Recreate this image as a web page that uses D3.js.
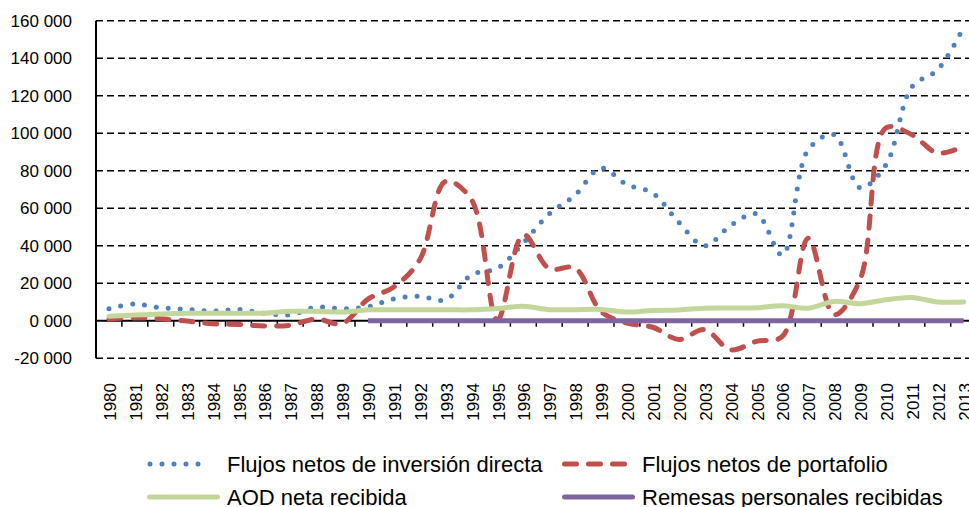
<!DOCTYPE html>
<meta charset="utf-8">
<style>
body { margin: 0; background: #fff; }
text { font-family: "Liberation Sans", Arial, sans-serif; fill: #000; }
.ylab { font-size: 17px; }
.xlab { font-size: 17px; }
.legend text { font-size: 22px; }
</style>
<svg width="969" height="507"></svg>
<script src="https://d3js.org/d3.v7.min.js"></script>
<script>

// years on the x axis
var years = d3.range(1980, 2014).map(String);

// Flujos netos de inversión directa
var inversion = [6400, 8900, 6900, 6100, 5100, 6000, 4000, 3200, 7200, 6400,
  7500, 11700, 13000, 11200, 24500, 28000, 41500, 57000, 67000, 81400,
  72500, 68000, 52500, 40000, 50700, 57000, 35000, 91200, 99200, 70900,
  83200, 124600, 133900, 156600];

// Flujos netos de portafolio
var portafolio = [900, 1500, 1000, -200, -1600, -2000, -2800, -2400, 900, -1500,
  11500, 18000, 32500, 74300, 64500, 500, 45900, 27800, 28000, 5000,
  -1300, -3500, -10000, -4800, -15500, -11000, -8400, 44000, 3200, 21900,
  102800, 99200, 89400, 93000];

// AOD neta recibida
var aod = [2400, 3000, 3600, 4000, 4000, 4000, 4000, 5000, 5000, 4600,
  5800, 5800, 5800, 5800, 5800, 6500, 7700, 5900, 5900, 6000,
  4600, 5500, 5700, 6700, 6800, 6900, 8000, 6700, 10300, 9100,
  11200, 12400, 10000, 10000];

// Remesas personales recibidas (no data before 1990)
var remesas = [null, null, null, null, null, null, null, null, null, null,
  0, 0, 0, 0, 0, 0, 0, 0, 0, 0,
  0, 0, 0, 0, 0, 0, 0, 0, 0, 0,
  0, 0, 0, 0];

var yTicks = [-20000, 0, 20000, 40000, 60000, 80000, 100000, 120000, 140000, 160000];
var yTickLabels = ["-20 000", "0 000", "20 000", "40 000", "60 000", "80 000",
  "100 000", "120 000", "140 000", "160 000"];

var seriesNames = ["Flujos netos de inversión directa", "Flujos netos de portafolio",
  "AOD neta recibida", "Remesas personales recibidas"];

var svg = d3.select("svg");

var x = d3.scaleBand()
    .domain(years)
    .range([96, 96 + 25.9 * years.length]);

var y = d3.scaleLinear()
    .domain([-20000, 160000])
    .range([358.2, 20.7]);

var plotRight = 969;

// dashed gridlines (skip zero, the axis line goes there)
svg.append("g")
  .selectAll("line")
  .data(yTicks.filter(d => d !== 0))
  .enter().append("line")
    .attr("x1", 96)
    .attr("x2", plotRight)
    .attr("y1", d => y(d))
    .attr("y2", d => y(d))
    .attr("stroke", "#000")
    .attr("stroke-width", 1.4)
    .attr("stroke-dasharray", "7,4");

// y labels
svg.append("g")
  .selectAll("text")
  .data(yTicks)
  .enter().append("text")
    .attr("class", "ylab")
    .attr("x", 72)
    .attr("y", d => y(d))
    .attr("dy", "0.36em")
    .attr("text-anchor", "end")
    .text((d, i) => yTickLabels[i]);

// left axis line
svg.append("line")
    .attr("x1", 96).attr("x2", 96)
    .attr("y1", y(160000)).attr("y2", y(-20000))
    .attr("stroke", "#000")
    .attr("stroke-width", 2);

// zero axis line with category ticks
svg.append("line")
    .attr("x1", 96).attr("x2", plotRight)
    .attr("y1", y(0)).attr("y2", y(0))
    .attr("stroke", "#000")
    .attr("stroke-width", 2);

svg.append("g")
  .selectAll("line")
  .data(years.slice(1))
  .enter().append("line")
    .attr("x1", d => x(d))
    .attr("x2", d => x(d))
    .attr("y1", y(0))
    .attr("y2", y(0) + 6)
    .attr("stroke", "#000")
    .attr("stroke-width", 1.5);

// x labels, rotated
svg.append("g")
  .selectAll("text")
  .data(years)
  .enter().append("text")
    .attr("class", "xlab")
    .attr("text-anchor", "end")
    .attr("dy", "0.36em")
    .attr("transform", d => "translate(" + (x(d) + x.bandwidth() / 2 + 1) + ",383) rotate(-90)")
    .text(d => d);

// series styles
var styles = [
  {color: "#4F81BD", width: 5, dash: "0,12", cap: "round"},
  {color: "#C0504D", width: 5, dash: "12,12", cap: "round"},
  {color: "#C3D69B", width: 5, dash: null, cap: "round"},
  {color: "#8064A2", width: 5, dash: null, cap: "butt"}
];
var allSeries = [inversion, portafolio, aod, remesas];

// centripetal catmull-rom keeps the peaks close to the points, like the smoothed excel lines
var line = d3.line()
    .defined(d => d != null)
    .x((d, i) => x(years[i]) + x.bandwidth() / 2)
    .y(d => y(d))
    .curve(d3.curveCatmullRom.alpha(0.5));

svg.append("g")
  .selectAll("path")
  .data(allSeries)
  .enter().append("path")
    .attr("d", d => line(d))
    .attr("fill", "none")
    .attr("stroke", (d, i) => styles[i].color)
    .attr("stroke-width", (d, i) => styles[i].width)
    .attr("stroke-dasharray", (d, i) => styles[i].dash)
    .attr("stroke-linecap", (d, i) => styles[i].cap)
    .attr("stroke-linejoin", "round");

// legend, two rows by two columns
var legendPos = [[150, 464], [564.5, 464], [149.5, 497], [564.5, 497]];
var legendLen = [60, 60, 68, 68];
var textX = [227, 642, 227, 642];

var legend = svg.append("g")
    .attr("class", "legend")
  .selectAll("g")
  .data(seriesNames)
  .enter().append("g");

legend.append("line")
    .attr("x1", (d, i) => legendPos[i][0])
    .attr("x2", (d, i) => legendPos[i][0] + legendLen[i])
    .attr("y1", (d, i) => legendPos[i][1])
    .attr("y2", (d, i) => legendPos[i][1])
    .attr("stroke", (d, i) => styles[i].color)
    .attr("stroke-width", (d, i) => styles[i].width)
    .attr("stroke-dasharray", (d, i) => styles[i].dash)
    .attr("stroke-linecap", "round");

legend.append("text")
    .attr("x", (d, i) => textX[i])
    .attr("y", (d, i) => legendPos[i][1])
    .attr("dy", "0.36em")
    .text(d => d);

</script>
